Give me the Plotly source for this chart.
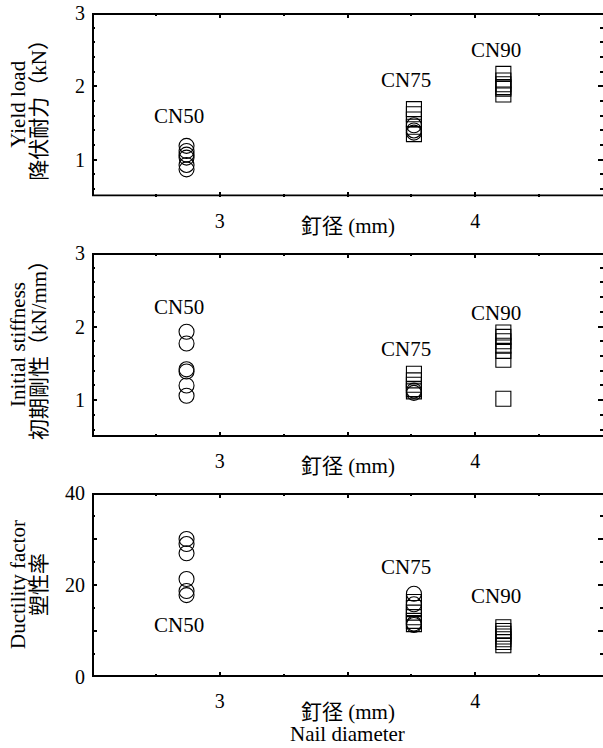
import plotly.graph_objects as go

# ---------------- data ----------------
nail_names = ["CN50", "CN75", "CN90"]
nail_diam = [2.87, 3.76, 4.11]  # mm

# Yield load (kN)
yield_cn50_o = [1.19, 1.12, 1.07, 1.03, 0.93, 0.87]
yield_cn75_o = [1.47, 1.40, 1.37]
yield_cn75_s = [1.69, 1.62, 1.55, 1.45, 1.35]
yield_cn90_s = [2.17, 2.08, 2.03, 1.99, 1.97, 1.89]

# Initial stiffness (kN/mm)
stiff_cn50_o = [1.93, 1.77, 1.42, 1.39, 1.20, 1.06]
stiff_cn75_o = [1.13, 1.10]
stiff_cn75_s = [1.36, 1.27, 1.21, 1.15, 1.12]
stiff_cn90_s = [1.92, 1.86, 1.80, 1.74, 1.67, 1.55, 1.02]

# Ductility factor
duct_cn50_o = [30.0, 28.9, 26.9, 21.3, 18.7, 17.8]
duct_cn75_o = [18.1, 15.8, 11.6, 11.3]
duct_cn75_s = [16.3, 15.0, 14.0, 13.0, 12.2, 11.5]
duct_cn90_s = [10.8, 10.0, 9.4, 8.8, 8.2, 7.6, 6.9]

# label heights for CN50, CN75, CN90 in each panel
yield_label_y = [1.60, 2.09, 2.50]
stiff_label_y = [2.27, 1.70, 2.19]
duct_label_y = [11.2, 24.0, 17.7]

# axis ranges / ticks
x_range = [2.5, 4.5]
y_range_kn = [0.5, 3]
y_range_duct = [0, 40]
x_tickvals = [3, 3.5, 4]
x_ticktext = ["3", "", "4"]
y_tickvals_kn = [1, 2, 3]
y_ticktext_kn = ["1", "2", "3"]
y_tickvals_duct = [0, 10, 20, 30, 40]
y_ticktext_duct = ["0", "", "20", "", "40"]

x_title = "釘径 (mm)"
x_title_bottom2 = "Nail diameter"
y_titles = [("Yield load", "降伏耐力（kN）"),
            ("Initial stiffness", "初期剛性（kN/mm）"),
            ("Ductility factor", "塑性率")]

# ---------------- figure ----------------
W, H = 603, 748
FONT = "Liberation Serif, Times New Roman, Noto Sans CJK JP, serif"
FS = 21
FS_TICK = 20

left_px, right_px = 92, 603
panels_px = [(13, 196.5), (253, 437), (493, 677)]

fig = go.Figure()


def marker(symbol):
    return dict(symbol=symbol, size=15, color="black", line=dict(width=1.1, color="black"))


panel_data = [
    (yield_cn50_o, yield_cn75_o, yield_cn75_s, yield_cn90_s),
    (stiff_cn50_o, stiff_cn75_o, stiff_cn75_s, stiff_cn90_s),
    (duct_cn50_o, duct_cn75_o, duct_cn75_s, duct_cn90_s),
]
label_ys = [yield_label_y, stiff_label_y, duct_label_y]
y_ranges = [y_range_kn, y_range_kn, y_range_duct]

x_per_px = (x_range[1] - x_range[0]) / (right_px - left_px)

for i, (c50, c75o, c75s, c90s) in enumerate(panel_data):
    xa = "x" if i == 0 else f"x{i+1}"
    ya = "y" if i == 0 else f"y{i+1}"
    yr = y_ranges[i]
    top, bot = panels_px[i]
    y_per_px = (yr[1] - yr[0]) / (bot - top)
    # frame (left, top, bottom) drawn just inside the axis ranges
    fx0 = x_range[0] + 1 * x_per_px
    fy0 = yr[0] + 1 * y_per_px
    fy1 = yr[1] - 1 * y_per_px
    fig.add_trace(go.Scatter(x=[x_range[1], fx0, fx0, x_range[1]],
                             y=[fy1, fy1, fy0, fy0], mode="lines",
                             line=dict(color="black", width=2),
                             hoverinfo="skip", xaxis=xa, yaxis=ya, showlegend=False))
    fig.add_trace(go.Scatter(x=[nail_diam[1]] * len(c75s), y=c75s, mode="markers",
                             marker=marker("square-open"), xaxis=xa, yaxis=ya, showlegend=False))
    fig.add_trace(go.Scatter(x=[nail_diam[2]] * len(c90s), y=c90s, mode="markers",
                             marker=marker("square-open"), xaxis=xa, yaxis=ya, showlegend=False))
    fig.add_trace(go.Scatter(x=[nail_diam[0]] * len(c50), y=c50, mode="markers",
                             marker=marker("circle-open"), xaxis=xa, yaxis=ya, showlegend=False))
    fig.add_trace(go.Scatter(x=[nail_diam[1]] * len(c75o), y=c75o, mode="markers",
                             marker=marker("circle-open"), xaxis=xa, yaxis=ya, showlegend=False))
    for name, d, ly in zip(nail_names, nail_diam, label_ys[i]):
        fig.add_annotation(x=d - 0.03, y=ly, xref=xa, yref=ya, text=name, showarrow=False,
                           font=dict(family=FONT, size=FS, color="black"),
                           xanchor="center", yanchor="middle")

layout = dict(
    width=W, height=H, margin=dict(l=0, r=0, t=0, b=0, autoexpand=False),
    paper_bgcolor="white", plot_bgcolor="white",
    font=dict(family=FONT, size=FS, color="black"),
    showlegend=False,
)
for i, (top, bot) in enumerate(panels_px):
    suffix = "" if i == 0 else str(i + 1)
    xd = [left_px / W, right_px / W]
    yd = [1 - bot / H, 1 - top / H]
    layout["xaxis" + suffix] = dict(
        domain=xd, range=x_range, anchor="y" + suffix,
        tickvals=x_tickvals, ticktext=x_ticktext,
        ticks="inside", ticklen=5, tickwidth=2, tickcolor="black",
        showgrid=False, zeroline=False, showline=False, mirror="ticks",
        tickfont=dict(family=FONT, size=FS_TICK, color="black"),
        minor=dict(dtick=0.25, tick0=2.5, ticks="inside", ticklen=3, tickwidth=2, tickcolor="black"),
        ticklabelstandoff=10, fixedrange=True,
    )
    if i < 2:
        tv, tt = y_tickvals_kn, y_ticktext_kn
        minor = dict(dtick=0.2, tick0=0, ticks="inside", ticklen=3, tickwidth=2, tickcolor="black")
    else:
        tv, tt = y_tickvals_duct, y_ticktext_duct
        minor = dict(dtick=5, tick0=0, ticks="inside", ticklen=3, tickwidth=2, tickcolor="black")
    layout["yaxis" + suffix] = dict(
        domain=yd, range=y_ranges[i], anchor="x" + suffix,
        tickvals=tv, ticktext=tt,
        ticks="inside", ticklen=5, tickwidth=2, tickcolor="black",
        showgrid=False, zeroline=False, showline=False, mirror="ticks",
        tickfont=dict(family=FONT, size=FS_TICK, color="black"),
        minor=minor, ticklabelstandoff=6, fixedrange=True,
    )

fig.update_layout(**layout)

# axis titles as annotations
cx = (left_px + right_px) / 2 / W
for i, (top, bot) in enumerate(panels_px):
    cy = 1 - (top + bot) / 2 / H
    l1, l2 = y_titles[i]
    fig.add_annotation(x=18 / W, y=cy, xref="paper", yref="paper", text=l1, textangle=-90,
                       showarrow=False, xanchor="center", yanchor="middle",
                       font=dict(family=FONT, size=FS, color="black"))
    fig.add_annotation(x=39 / W, y=cy, xref="paper", yref="paper", text=l2, textangle=-90,
                       showarrow=False, xanchor="center", yanchor="middle",
                       font=dict(family=FONT, size=FS, color="black"))

for ypx in [226, 466, 712]:
    fig.add_annotation(x=cx, y=1 - ypx / H, xref="paper", yref="paper", text=x_title,
                       showarrow=False, xanchor="center", yanchor="middle",
                       font=dict(family=FONT, size=FS, color="black"))
fig.add_annotation(x=cx, y=1 - 734 / H, xref="paper", yref="paper", text=x_title_bottom2,
                   showarrow=False, xanchor="center", yanchor="middle",
                   font=dict(family=FONT, size=FS, color="black"))

fig.write_html("out.html", config={"displayModeBar": False, "staticPlot": True},
               post_script="document.body.style.margin='0';document.body.style.padding='0';")
